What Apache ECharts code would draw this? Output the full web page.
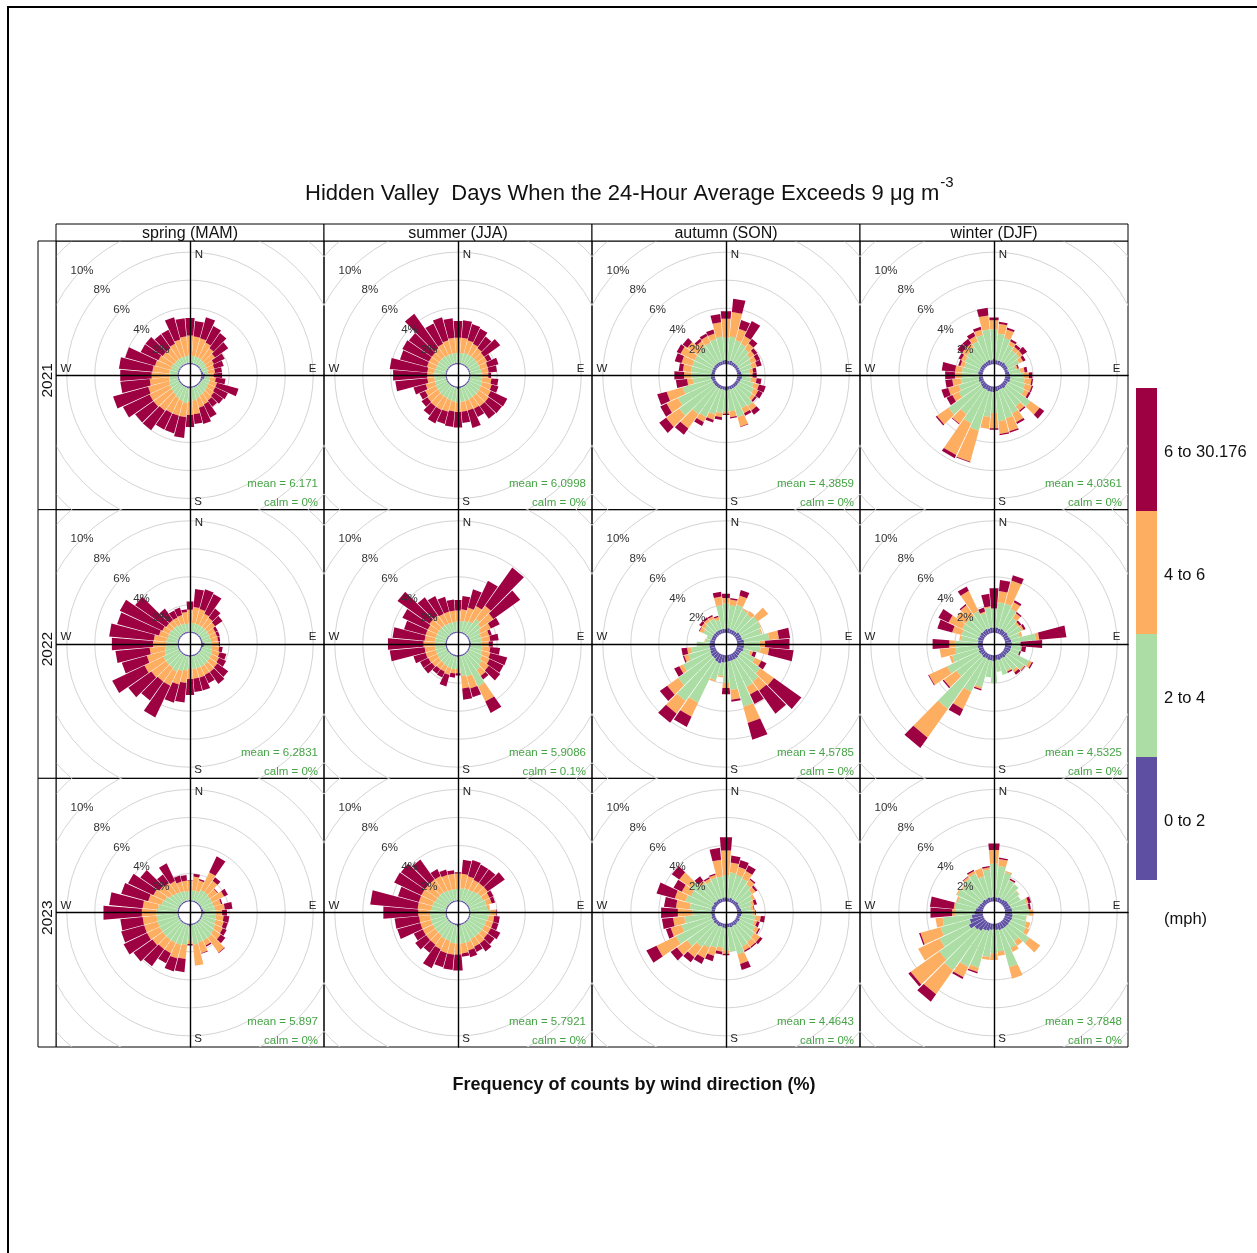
<!DOCTYPE html>
<html><head><meta charset="utf-8">
<script src="https://cdn.jsdelivr.net/npm/echarts@6/dist/echarts.min.js"></script>
<style>html,body{margin:0;padding:0;background:#fff;}#c{width:1257px;height:1253px;}</style>
</head><body><div id="c"></div>
<script>
// ---------------- DATA ----------------
const directions = [0,10,20,30,40,50,60,70,80,90,100,110,120,130,140,150,160,170,180,190,200,210,220,230,240,250,260,270,280,290,300,310,320,330,340,350];
const speedBins = ['0 to 2','2 to 4','4 to 6','6 to 30.176'];
const seasons = ['spring (MAM)','summer (JJA)','autumn (SON)','winter (DJF)'];
const years = ['2021','2022','2023'];
const ringPercents = [2,4,6,8,10,12];
const ringLabels = [2,4,6,8,10];
const means2021 = ['6.171','6.0998','4.3859','4.0361'];
const means2022 = ['6.2831','5.9086','4.5785','4.5325'];
const means2023 = ['5.897','5.7921','4.4643','3.7848'];
const calms2021 = ['0%','0%','0%','0%'];
const calms2022 = ['0%','0.1%','0%','0%'];
const calms2023 = ['0%','0%','0%','0%'];

// frequency (%) by direction for each speed bin: [0-2, 2-4, 4-6, 6+]
const spring2021 = [
 [.1,.1,.1,.1,.1,.1,.1,.1,.15,.3,.25,.15,.1,.1,.1,.1,.1,.1,.15,.15,.1,.1,.1,.1,.1,.1,.1,.1,.1,.1,.1,.1,.1,.1,.1,.1],
 [.5,.5,.5,.5,.45,.45,.4,.4,.35,.25,.4,.5,.55,.6,.65,.7,.8,.9,.95,1.05,1.0,.9,.8,.75,.7,.65,.6,.6,.6,.55,.55,.5,.5,.5,.5,.5],
 [1.45,1.4,1.35,1.2,1.05,.85,.6,.5,.5,.35,.4,.55,.55,.6,.65,.7,.7,1.0,.95,1.0,1.1,1.2,1.4,1.55,1.6,1.55,1.4,1.25,1.2,1.15,1.05,1.0,1.0,1.1,1.25,1.4],
 [1.25,1.1,1.55,1.3,1.3,1.15,.85,.7,.5,.6,.7,1.6,1.0,.8,.55,1.05,1.2,.7,.85,1.5,1.3,1.3,1.7,1.6,2.1,2.6,2.1,2.25,2.4,2.2,1.4,1.5,1.2,1.1,1.65,1.3]
];
const summer2021 = [
 [.1,.1,.1,.1,.1,.1,.1,.1,.1,.12,.1,.1,.1,.1,.1,.1,.1,.12,.18,.1,.1,.1,.1,.1,.1,.1,.1,.1,.1,.1,.1,.1,.1,.1,.1,.1],
 [.7,.7,.75,.75,.75,.75,.75,.75,.8,.8,.85,.9,.9,.95,.95,.95,1.0,1.0,.95,1.0,.95,.9,.9,.85,.85,.8,.8,.8,.8,.75,.75,.75,.75,.7,.7,.7],
 [1.1,1.1,.95,.85,.75,.65,.65,.55,.5,.45,.65,.7,.8,.85,.85,.8,.7,.7,.7,.7,.85,.95,.95,.95,.85,.7,.5,.5,.5,.65,.65,.65,.75,.9,1.0,1.1],
 [1.2,1.25,1.2,1.2,1.0,1.4,.35,.8,.6,.2,.5,.5,1.3,1.15,1.1,.65,1.3,.8,1.1,1.1,.9,1.05,.75,.5,.45,.9,2.3,2.45,2.7,2.0,2.1,2.0,3.0,1.6,1.7,1.4]
];
const autumn2021 = [
 [.3,.25,.3,.25,.25,.25,.25,.25,.3,.35,.35,.3,.25,.25,.25,.25,.25,.25,.3,.25,.25,.25,.25,.25,.25,.25,.3,.3,.25,.25,.25,.25,.25,.25,.25,.3],
 [1.6,1.75,1.5,1.45,1.25,1.05,.95,.85,.6,.55,.65,.95,1.15,1.25,1.65,1.55,2.05,1.55,1.5,1.65,1.85,2.25,2.35,3.05,2.75,2.15,1.3,1.4,1.45,1.45,1.45,1.45,1.55,1.55,1.65,1.7],
 [1.35,1.75,.85,.6,.5,.4,.4,.4,.25,.2,.4,.4,.35,.25,.4,.4,.7,.4,.15,.3,.4,.4,1.25,1.15,.9,1.2,.4,.5,.6,.8,1.1,.9,.4,.5,.4,1.0],
 [.55,.95,.65,1.2,.4,.25,.3,.35,.25,.3,.35,.5,.35,.15,.35,.2,.05,.1,.1,.2,.2,.3,.55,.6,.5,.7,.8,.7,.3,.5,.3,.4,.2,.2,.3,.6]
];
const winter2021 = [
 [.4,.3,.3,.3,.35,.3,.3,.25,.3,.35,.4,.4,.3,.3,.35,.3,.3,.35,.4,.4,.4,.35,.4,.35,.3,.35,.3,.3,.35,.3,.3,.3,.3,.3,.35,.3],
 [2.1,1.9,1.7,1.3,1.05,1.1,.9,.55,.8,.95,1.0,1.1,1.3,2.1,1.55,1.9,2.1,2.15,1.5,1.8,2.9,2.65,2.2,2.85,1.7,1.45,1.3,1.2,1.15,1.1,1.2,1.3,1.4,1.6,1.85,2.2],
 [.65,.7,.6,.3,.3,.3,.3,.15,.3,.4,.5,.5,.35,.8,.4,.7,.95,.9,1.1,.85,2.3,2.5,.85,1.0,.5,.8,.6,.5,.5,.3,.3,.4,.3,.4,.4,1.0],
 [.2,.15,.15,.15,.2,.4,.2,.1,.2,.25,.1,.1,.15,.4,.1,.15,.1,.1,.1,0,.05,.25,.05,.1,.45,.5,.5,.7,.95,.15,.2,.4,.4,.3,.2,.55]
];
const spring2022 = [
 [.1,.1,.1,.1,.1,.1,.1,.1,.12,.25,.2,.1,.1,.1,.1,.1,.1,.1,.15,.1,.1,.1,.1,.1,.1,.1,.1,.1,.1,.1,.1,.1,.1,.1,.1,.1],
 [.55,.6,.6,.6,.6,.6,.6,.6,.6,.5,.6,.75,.8,.85,.9,.9,.9,.9,.85,1.0,1.1,1.3,1.2,1.2,1.2,1.0,.9,.8,.8,.75,.75,.7,.7,.65,.6,.55],
 [1.0,1.15,1.1,.9,.8,.7,.5,.5,.5,.5,.5,.55,.6,.65,.65,.65,.7,.7,.7,.9,1.0,1.1,1.2,1.3,1.5,1.3,1.1,.95,.9,.65,.55,.5,.5,.55,.65,.85],
 [.6,1.3,1.45,1.55,.8,.65,.2,.2,.15,.1,.25,.5,.55,.95,1.05,.65,.95,.95,1.15,1.4,1.35,2.5,1.65,2.0,2.55,1.85,2.45,2.95,3.2,3.1,3.35,2.7,1.0,.55,.55,.2]
];
const summer2022 = [
 [.1,.1,.1,.1,.1,.1,.1,.1,.12,.15,.12,.1,.1,.1,.1,.1,.1,.1,.15,.12,.1,.1,.1,.1,.1,.1,.1,.12,.1,.1,.1,.1,.1,.1,.1,.1],
 [.7,.75,.8,.9,1.3,1.1,.9,.8,.8,.75,.85,.9,1.0,1.2,1.4,2.45,1.5,1.4,.85,.9,.9,.85,.8,.8,.75,.75,.75,.75,.75,.75,.75,.75,.75,.7,.7,.7],
 [.8,.85,1.0,1.2,1.15,1.1,.8,.6,.6,.5,.55,.6,.6,.6,.5,1.2,.9,.9,.3,.3,.5,.45,.5,.6,.7,.75,.75,.8,.75,.75,.75,.85,.85,.8,.8,.8],
 [.75,.95,1.35,2.0,3.35,2.35,.7,.2,.6,.3,.7,1.25,1.1,1.0,.3,.9,.65,.8,.15,.3,.85,.45,.4,.7,.65,.9,2.5,2.55,2.3,1.6,2.0,2.8,1.6,1.4,1.1,.8]
];
const autumn2022 = [
 [.3,.35,.3,.3,.3,.4,.4,.4,.5,.5,.5,.5,.4,.4,.45,.45,.45,.45,.5,.55,.65,.6,.5,.5,.45,.4,.4,.4,.35,.3,.3,.3,.3,.3,.3,.3],
 [1.8,1.65,1.8,1.6,1.5,1.6,1.55,1.4,1.8,1.1,1.2,.5,1.1,1.8,2.05,2.15,3.4,2.05,1.5,.95,1.25,3.25,3.7,2.9,2.15,1.6,1.3,.9,.35,.3,.7,.8,.9,.9,.7,1.7],
 [.4,.4,.7,.1,.3,.9,.05,.1,.7,.4,.6,.2,.5,1.2,.8,.6,1.2,.7,.35,.1,.1,1.1,1.1,.95,.3,.3,.3,0,.05,.05,.3,.25,.2,.2,.2,.6],
 [.3,.1,.4,0,0,0,0,0,.8,1.75,1.75,.25,.4,2.4,2.0,.75,1.25,.15,.45,0,0,.8,.8,.65,.4,.1,.4,0,0,0,.05,.2,.15,.1,.1,.35]
];
const winter2022 = [
 [.35,.4,.35,.4,.35,.4,.35,.4,.45,.5,.45,.45,.4,.35,.4,.35,.4,.35,.45,.4,.4,.35,.4,.35,.4,.35,.4,.35,.35,.4,.35,.4,.35,.4,.35,.4],
 [1.4,1.8,1.85,1.6,1.15,.9,1.05,.7,1.75,.6,.75,.65,1.6,1.45,1.1,.95,1.1,.85,1.55,1.2,2.0,2.65,4.5,2.15,2.5,1.95,1.6,1.65,1.25,1.2,1.35,1.3,1.35,1.4,1.15,1.4],
 [0,.8,1.7,.5,.4,.15,.15,.2,.25,0,0,0,.2,.1,.2,.1,0,0,0,0,.15,1.35,2.5,1.1,1.45,.2,1.1,.4,.1,.7,1.1,.8,.9,1.6,.1,.1],
 [1.45,.8,.4,.15,.1,.15,.15,0,1.95,1.55,.3,.1,.1,.05,.2,.1,0,0,0,0,.1,.55,.9,.1,.05,0,0,1.2,0,1.1,.8,0,.1,.35,.3,.9]
];
const spring2023 = [
 [.1,.1,.1,.1,.1,.1,.1,.1,.15,.25,.12,.1,.1,.1,.1,.1,.1,.1,.2,.12,.1,.1,.1,.1,.1,.1,.1,.1,.1,.1,.1,.1,.1,.1,.1,.1],
 [.6,.7,.7,.9,.9,.85,.85,.85,.85,.75,.95,1.0,1.1,1.2,1.3,1.3,1.3,1.4,1.0,1.4,1.5,1.5,1.5,1.5,1.5,1.5,1.5,1.5,1.4,1.2,1.1,.9,.8,.75,.7,.65],
 [.8,1.0,.8,1.4,1.0,.65,.95,.55,.7,.5,.55,.6,.6,.6,1.3,.4,.8,1.5,.25,1.0,1.0,.8,.8,.9,1.0,1.0,1.0,1.05,1.1,1.0,.9,.9,.9,.85,.7,.75],
 [.05,.2,.1,1.25,.3,.05,.3,.1,.55,.35,.4,.3,.3,.4,.05,.1,.05,0,.1,.95,.95,.8,1.5,1.65,1.85,1.7,1.6,2.75,2.4,2.0,2.0,1.65,.75,1.4,.45,.4]
];
const summer2023 = [
 [.1,.1,.1,.1,.1,.1,.1,.1,.1,.12,.1,.1,.1,.1,.1,.1,.1,.12,.2,.12,.1,.1,.1,.1,.1,.1,.1,.1,.1,.1,.1,.1,.1,.1,.1,.1],
 [.8,.85,.9,.9,1.0,1.1,1.1,1.2,1.2,1.4,1.3,1.2,1.2,1.2,1.2,1.2,1.3,1.3,1.2,1.3,1.2,1.2,1.1,1.1,1.1,1.1,1.1,1.1,1.0,1.0,.9,.9,.9,.85,.8,.8],
 [1.1,1.05,.9,.8,.7,.6,.5,.4,.2,.4,.4,.5,.5,.5,.6,.6,.6,.7,.8,.8,.9,.8,.8,.8,.8,.8,.8,.85,1.0,1.0,1.1,1.1,1.1,1.15,1.1,1.1],
 [.1,1.0,1.2,1.2,1.2,1.5,.3,.25,0,.05,.4,.4,.75,.6,.7,.4,.5,.25,1.15,1.1,1.05,1.5,.7,.95,.7,1.7,1.75,2.5,3.4,1.55,2.15,2.1,1.75,.55,.4,.25]
];
const autumn2023 = [
 [.3,.25,.3,.25,.25,.3,.25,.25,.3,.35,.3,.25,.3,.25,.3,.25,.3,.25,.35,.3,.25,.3,.25,.3,.25,.3,.25,.3,.25,.3,.25,.3,.25,.3,.25,.3],
 [1.6,1.85,1.7,1.65,1.45,1.2,1.05,.85,.7,.75,1.0,1.05,1.2,1.45,1.5,1.65,2.0,1.75,1.55,1.4,1.55,1.7,1.95,2.3,2.9,2.2,1.95,1.3,1.55,1.9,1.75,2.0,1.55,1.4,1.55,1.5],
 [1.75,.7,.6,.6,.4,.3,.2,.2,.2,.2,.4,.2,.3,.5,.4,.3,.7,0,.25,.3,.6,.8,.9,.9,1.55,.8,.8,1.05,1.0,.8,.7,1.0,.2,.2,.2,1.2],
 [.95,.5,.5,.45,.1,.15,0,.2,.05,.05,.3,.2,.1,.2,.1,.1,.45,0,.1,.2,.4,.45,.45,.55,.8,.35,.8,1.2,.85,1.35,.65,.65,.4,.1,.1,.85]
];
const winter2023 = [
 [.35,.3,.35,.3,.35,.4,.4,.45,.5,.5,.55,.55,.5,.5,.5,.5,.5,.45,.4,.45,.55,.6,.8,.9,1.2,1.0,.8,.6,.5,.4,.35,.3,.35,.3,.35,.3],
 [2.35,2.25,1.85,1.45,1.35,1.0,.9,1.15,1.1,1.2,.95,1.05,1.2,1.8,1.2,1.5,2.75,1.55,1.7,1.95,2.75,2.9,3.45,3.1,2.3,2.15,2.1,1.4,1.5,1.5,1.75,1.7,1.85,2.0,1.55,2.0],
 [1.0,.5,.1,.05,0,.05,0,.15,.1,.3,.05,.3,.3,.95,.4,.3,.85,.3,.5,.2,.3,.8,2.1,2.5,1.7,1.5,.5,.2,.1,.1,.1,.1,.15,.2,.6,.15],
 [.45,.1,0,.1,0,0,0,.2,.15,0,0,0,0,0,0,0,0,0,0,0,.1,.15,.65,.2,0,.1,0,1.55,1.7,0,0,0,.05,.1,0,.1]
];

// ---------------- STYLE / LAYOUT ----------------
const binColors = ['#5E4FA2','#ABDDA4','#FDAE61','#9E0142'];
const panels = [
  [spring2021, summer2021, autumn2021, winter2021],
  [spring2022, summer2022, autumn2022, winter2022],
  [spring2023, summer2023, autumn2023, winter2023]
];
const meansByYear = [means2021, means2022, means2023];
const calmsByYear = [calms2021, calms2022, calms2023];
const FONT = '"Liberation Sans", Arial, sans-serif';
const SC = 14;      // px per percent
const HOLE = 0.8;   // centre hole (percent units)
const HW = 4.65;    // half wedge width, degrees
const PX0 = 56, PY0 = 241, PW = 268, PH = 268.67;
const D2R = Math.PI / 180;

function buildWedges(bins) {
  const out = [];
  directions.forEach((d, i) => {
    let cum = 0;
    for (let b = 0; b < bins.length; b++) {
      const v = bins[b][i];
      if (v > 0) out.push([d, b, cum, cum + v]);
      cum += v;
    }
  });
  return out;
}
function wedgeRender(params, api) {
  const d = api.value(0), b = api.value(1), c0 = api.value(2), c1 = api.value(3);
  const r0 = HOLE + c0, r1 = HOLE + c1;
  const a1 = (d - HW) * D2R, a2 = (d + HW) * D2R;
  const pts = [
    [r0 * Math.sin(a1), r0 * Math.cos(a1)],
    [r1 * Math.sin(a1), r1 * Math.cos(a1)],
    [r1 * Math.sin(a2), r1 * Math.cos(a2)],
    [r0 * Math.sin(a2), r0 * Math.cos(a2)]
  ].map(p => api.coord(p));
  return { type: 'polygon', shape: { points: pts }, style: { fill: binColors[b] } };
}
function ringRender(params, api) {
  const v = api.value(0);
  const c = api.coord([0, 0]);
  const r = api.coord([HOLE + v, 0])[0] - c[0];
  return { type: 'circle', shape: { cx: c[0], cy: c[1], r: r }, style: { fill: 'none', stroke: '#d4d4d4', lineWidth: 1 } };
}
function ringLabelRender(params, api) {
  const v = api.value(0);
  const R = HOLE + v;
  const p = api.coord([-R * Math.SQRT1_2, R * Math.SQRT1_2]);
  return { type: 'text', x: p[0] - 1, y: p[1] + 2, style: { text: v + '%', fill: '#333', font: '11.5px ' + FONT, textAlign: 'center', textVerticalAlign: 'middle' } };
}

const grids = [], xAxes = [], yAxes = [], series = [], graphics = [];
graphics.push({ type: 'rect', shape: { x: 8, y: 7, width: 1300, height: 1300 }, style: { fill: 'none', stroke: '#000', lineWidth: 2 }, silent: true });

years.forEach((yr, r) => {
  seasons.forEach((sn, c) => {
    const k = r * 4 + c;
    const left = PX0 + c * PW, top = PY0 + r * PH;
    const hx = PW / 2 / SC, hy = PH / 2 / SC;
    grids.push({ left: left, top: top, width: PW, height: PH, show: true, borderColor: '#000', borderWidth: 1, containLabel: false });
    const axCommon = { type: 'value', axisLine: { onZero: true, lineStyle: { color: '#000', width: 1.4 } }, axisTick: { show: false }, axisLabel: { show: false }, splitLine: { show: false }, z: 10 };
    xAxes.push(Object.assign({ gridIndex: k, min: -hx, max: hx }, axCommon));
    yAxes.push(Object.assign({ gridIndex: k, min: -hy, max: hy }, axCommon));
    series.push({ type: 'custom', xAxisIndex: k, yAxisIndex: k, clip: true, silent: true, z: 1, data: ringPercents.map(v => [v]), renderItem: ringRender });
    series.push({ type: 'custom', name: yr + ' ' + sn, xAxisIndex: k, yAxisIndex: k, clip: true, silent: true, z: 2, data: buildWedges(panels[r][c]), renderItem: wedgeRender });
    series.push({ type: 'custom', xAxisIndex: k, yAxisIndex: k, clip: true, silent: true, z: 12, data: ringLabels.map(v => [v]), renderItem: ringLabelRender });
    const cx = left + PW / 2, cy = top + PH / 2;
    const dirTxt = [['N', 9, -121], ['E', 122.5, -7], ['S', 8, 126], ['W', -124, -7]];
    dirTxt.forEach(t => graphics.push({ type: 'text', x: cx + t[1], y: cy + t[2], z: 20, silent: true,
      style: { text: t[0], font: '11.5px ' + FONT, fill: '#222', textAlign: 'center', textVerticalAlign: 'middle' } }));
    graphics.push({ type: 'text', x: left + PW - 6, y: top + 243, z: 20, silent: true,
      style: { text: 'mean = ' + meansByYear[r][c], font: '11.5px ' + FONT, fill: '#45a345', textAlign: 'right', textVerticalAlign: 'middle' } });
    graphics.push({ type: 'text', x: left + PW - 6, y: top + 262, z: 20, silent: true,
      style: { text: 'calm = ' + calmsByYear[r][c], font: '11.5px ' + FONT, fill: '#45a345', textAlign: 'right', textVerticalAlign: 'middle' } });
  });
});

// column strips
seasons.forEach((sn, c) => {
  graphics.push({ type: 'rect', shape: { x: PX0 + c * PW, y: 224, width: PW, height: 17 }, style: { fill: '#fff', stroke: '#000', lineWidth: 1 }, z: 20, silent: true });
  graphics.push({ type: 'text', x: PX0 + c * PW + PW / 2, y: 233.5, z: 21, silent: true,
    style: { text: sn, font: '16px ' + FONT, fill: '#111', textAlign: 'center', textVerticalAlign: 'middle' } });
});
// row strips
years.forEach((yr, r) => {
  graphics.push({ type: 'rect', shape: { x: 38, y: PY0 + r * PH, width: 18, height: PH }, style: { fill: '#fff', stroke: '#000', lineWidth: 1 }, z: 20, silent: true });
  graphics.push({ type: 'text', x: 47.5, y: PY0 + r * PH + PH / 2 + 5, rotation: Math.PI / 2, z: 21, silent: true,
    style: { text: yr, font: '15.5px ' + FONT, fill: '#111', textAlign: 'center', textVerticalAlign: 'middle' } });
});

// title with superscript
const titleMain = 'Hidden Valley  Days When the 24-Hour Average Exceeds 9 \u03bcg m';
const titleFont = '22px ' + FONT;
const mctx = document.createElement('canvas').getContext('2d');
mctx.font = titleFont;
const titleW = mctx.measureText(titleMain).width;
graphics.push({ type: 'text', x: 305, y: 194, silent: true, style: { text: titleMain, font: titleFont, fill: '#111', textAlign: 'left', textVerticalAlign: 'middle' } });
graphics.push({ type: 'text', x: 305 + titleW + 1, y: 183, silent: true, style: { text: '-3', font: '15px ' + FONT, fill: '#111', textAlign: 'left', textVerticalAlign: 'middle' } });

// x label
graphics.push({ type: 'text', x: 634, y: 1085, silent: true, style: { text: 'Frequency of counts by wind direction (%)', font: 'bold 18px ' + FONT, fill: '#111', textAlign: 'center', textVerticalAlign: 'middle' } });

// colour key
const keyTop = 388, keyH = 123;
for (let i = 0; i < 4; i++) {
  const b = 3 - i;
  graphics.push({ type: 'rect', shape: { x: 1136, y: keyTop + i * keyH, width: 21, height: keyH }, style: { fill: binColors[b] }, silent: true });
  graphics.push({ type: 'text', x: 1164, y: keyTop + i * keyH + 64, silent: true, style: { text: speedBins[b], font: '16.5px ' + FONT, fill: '#111', textAlign: 'left', textVerticalAlign: 'middle' } });
}
graphics.push({ type: 'text', x: 1164, y: 919, silent: true, style: { text: '(mph)', font: '16.5px ' + FONT, fill: '#111', textAlign: 'left', textVerticalAlign: 'middle' } });

const chart = echarts.init(document.getElementById('c'), null, { renderer: 'canvas' });
chart.setOption({
  animation: false,
  backgroundColor: '#fff',
  grid: grids, xAxis: xAxes, yAxis: yAxes, series: series, graphic: graphics
});
</script></body></html>
